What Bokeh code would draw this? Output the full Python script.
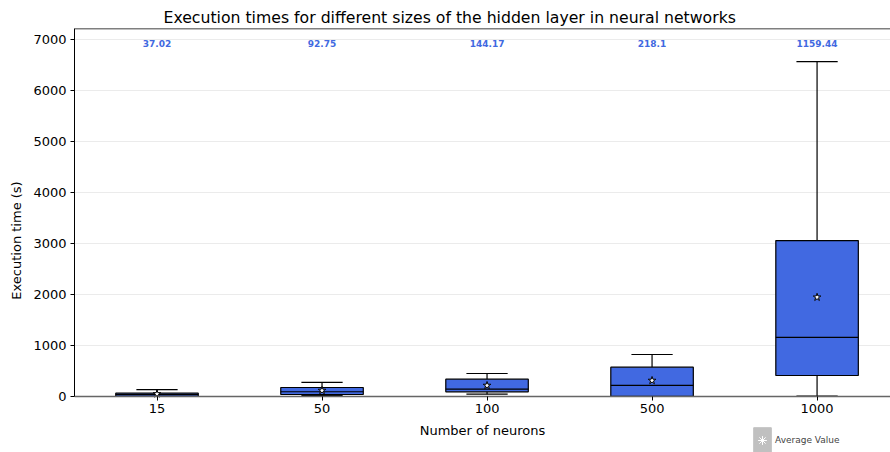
from bokeh.plotting import figure
from bokeh.models import Range1d, FixedTicker, Legend, LegendItem, ColumnDataSource, Title, Span
from bokeh.core.properties import value
from bokeh.embed import file_html
from bokeh.resources import INLINE

neurons = ["15", "50", "100", "500", "1000"]
lower_whisker = [0, 20, 45, 0, 10]
q1 = [5, 39, 92, 5, 412]
median = [37.02, 92.75, 144.17, 218.1, 1159.44]
q3 = [65, 176, 339, 575, 3059]
upper_whisker = [135, 275, 451, 824, 6569]
mean = [50, 118, 216, 314, 1947]

pos = list(range(1, len(neurons) + 1))
BOX_W = 0.5
CAP_W = 0.25
BLUE = "#4169E1"
FONT = "DejaVu Sans"
Y_MAX = 7220
Y_MIN = -1099  # room below zero for the x axis labels and the legend
NAN = float("nan")

src = ColumnDataSource(dict(
    x=pos,
    lw=lower_whisker, q1=q1, med=median, q3=q3, uw=upper_whisker, mean=mean,
    bx0=[p - BOX_W / 2 for p in pos], bx1=[p + BOX_W / 2 for p in pos],
    cx0=[p - CAP_W / 2 for p in pos], cx1=[p + CAP_W / 2 for p in pos],
    label=[str(m) for m in median],
    ly=[6920] * len(pos),
))

p = figure(width=890, height=452, output_backend="svg", toolbar_location=None,
           x_range=Range1d(0.5, 5.445), y_range=Range1d(Y_MIN, Y_MAX),
           min_border_left=74, min_border_right=0, min_border_bottom=0, min_border_top=28)
p.title = Title(text="Execution times for different sizes of the hidden layer in neural networks",
                align="left", text_font=FONT, text_font_size="15.7px", text_color="black",
                text_font_style="normal", offset=89, standoff=4)

# whiskers
p.segment(x0="x", y0="q3", x1="x", y1="uw", source=src, line_color="black", line_width=1.2)
p.segment(x0="x", y0="q1", x1="x", y1="lw", source=src, line_color="black", line_width=1.2)
p.segment(x0="cx0", y0="uw", x1="cx1", y1="uw", source=src, line_color="black", line_width=1.2)
p.segment(x0="cx0", y0="lw", x1="cx1", y1="lw", source=src, line_color="black", line_width=1.2)
# boxes
p.quad(left="bx0", right="bx1", bottom="q1", top="q3", source=src,
       fill_color=BLUE, line_color="black", line_width=1.2)
# medians
p.segment(x0="bx0", y0="med", x1="bx1", y1="med", source=src, line_color="black", line_width=1.2)
# means
p.scatter(x="x", y="mean", source=src, marker="star", size=8,
          fill_color="white", line_color="black", line_width=1)
# median labels
p.text(x="x", y="ly", text="label", source=src, text_align="center", text_baseline="middle",
       text_font=value(FONT), text_font_size="9px", text_font_style="bold", text_color=BLUE)

# axes
p.xaxis.ticker = FixedTicker(ticks=pos)
p.xaxis.major_label_overrides = {pp: n for pp, n in zip(pos, neurons)}
p.xaxis.fixed_location = 0
p.yaxis.ticker = FixedTicker(ticks=[0, 1000, 2000, 3000, 4000, 5000, 6000, 7000])
p.yaxis.bounds = (0, Y_MAX)
p.xaxis.axis_label = "Number of neurons"
p.yaxis.axis_label = "Execution time (s)"
for ax in (p.xaxis, p.yaxis):
    ax.axis_label_text_font = FONT
    ax.axis_label_text_font_size = "13px"
    ax.axis_label_text_font_style = "normal"
    ax.axis_label_text_color = "black"
    ax.major_label_text_font = FONT
    ax.major_label_text_font_size = "13px"
    ax.major_label_text_color = "black"
    ax.minor_tick_line_color = None
    ax.major_tick_out = 4
    ax.major_tick_in = 0
    ax.axis_line_color = "black"
    ax.major_tick_line_color = "black"
    ax.axis_label_standoff = 6
    ax.major_label_standoff = 4
p.xaxis.axis_line_color = "#666666"
p.xaxis.axis_line_width = 1.5
p.xgrid.grid_line_color = None
p.ygrid.grid_line_color = "#ebebeb"
p.outline_line_color = None
p.add_layout(Span(location=Y_MAX, dimension="width", line_color="black", line_width=1.5))
p.background_fill_color = "white"
p.border_fill_color = "white"

# legend proxy (not drawn in the plot: NaN data)
r_box = p.quad(left=[NAN], right=[NAN], bottom=[NAN], top=[NAN],
               fill_color="#c0c0c0", line_color="#c0c0c0")
r_star = p.scatter(x=[NAN], y=[NAN], marker="asterisk", size=8, line_color="white", line_width=1)
legend = Legend(items=[LegendItem(label="Average Value", renderers=[r_box, r_star])],
                location=(677, -4), glyph_width=22, glyph_height=32,
                label_text_font=FONT, label_text_font_size="9px",
                padding=0, margin=0, spacing=0, label_standoff=2,
                background_fill_alpha=0, border_line_color=None)
p.add_layout(legend)

open("out.html", "w").write(file_html(p, INLINE))
